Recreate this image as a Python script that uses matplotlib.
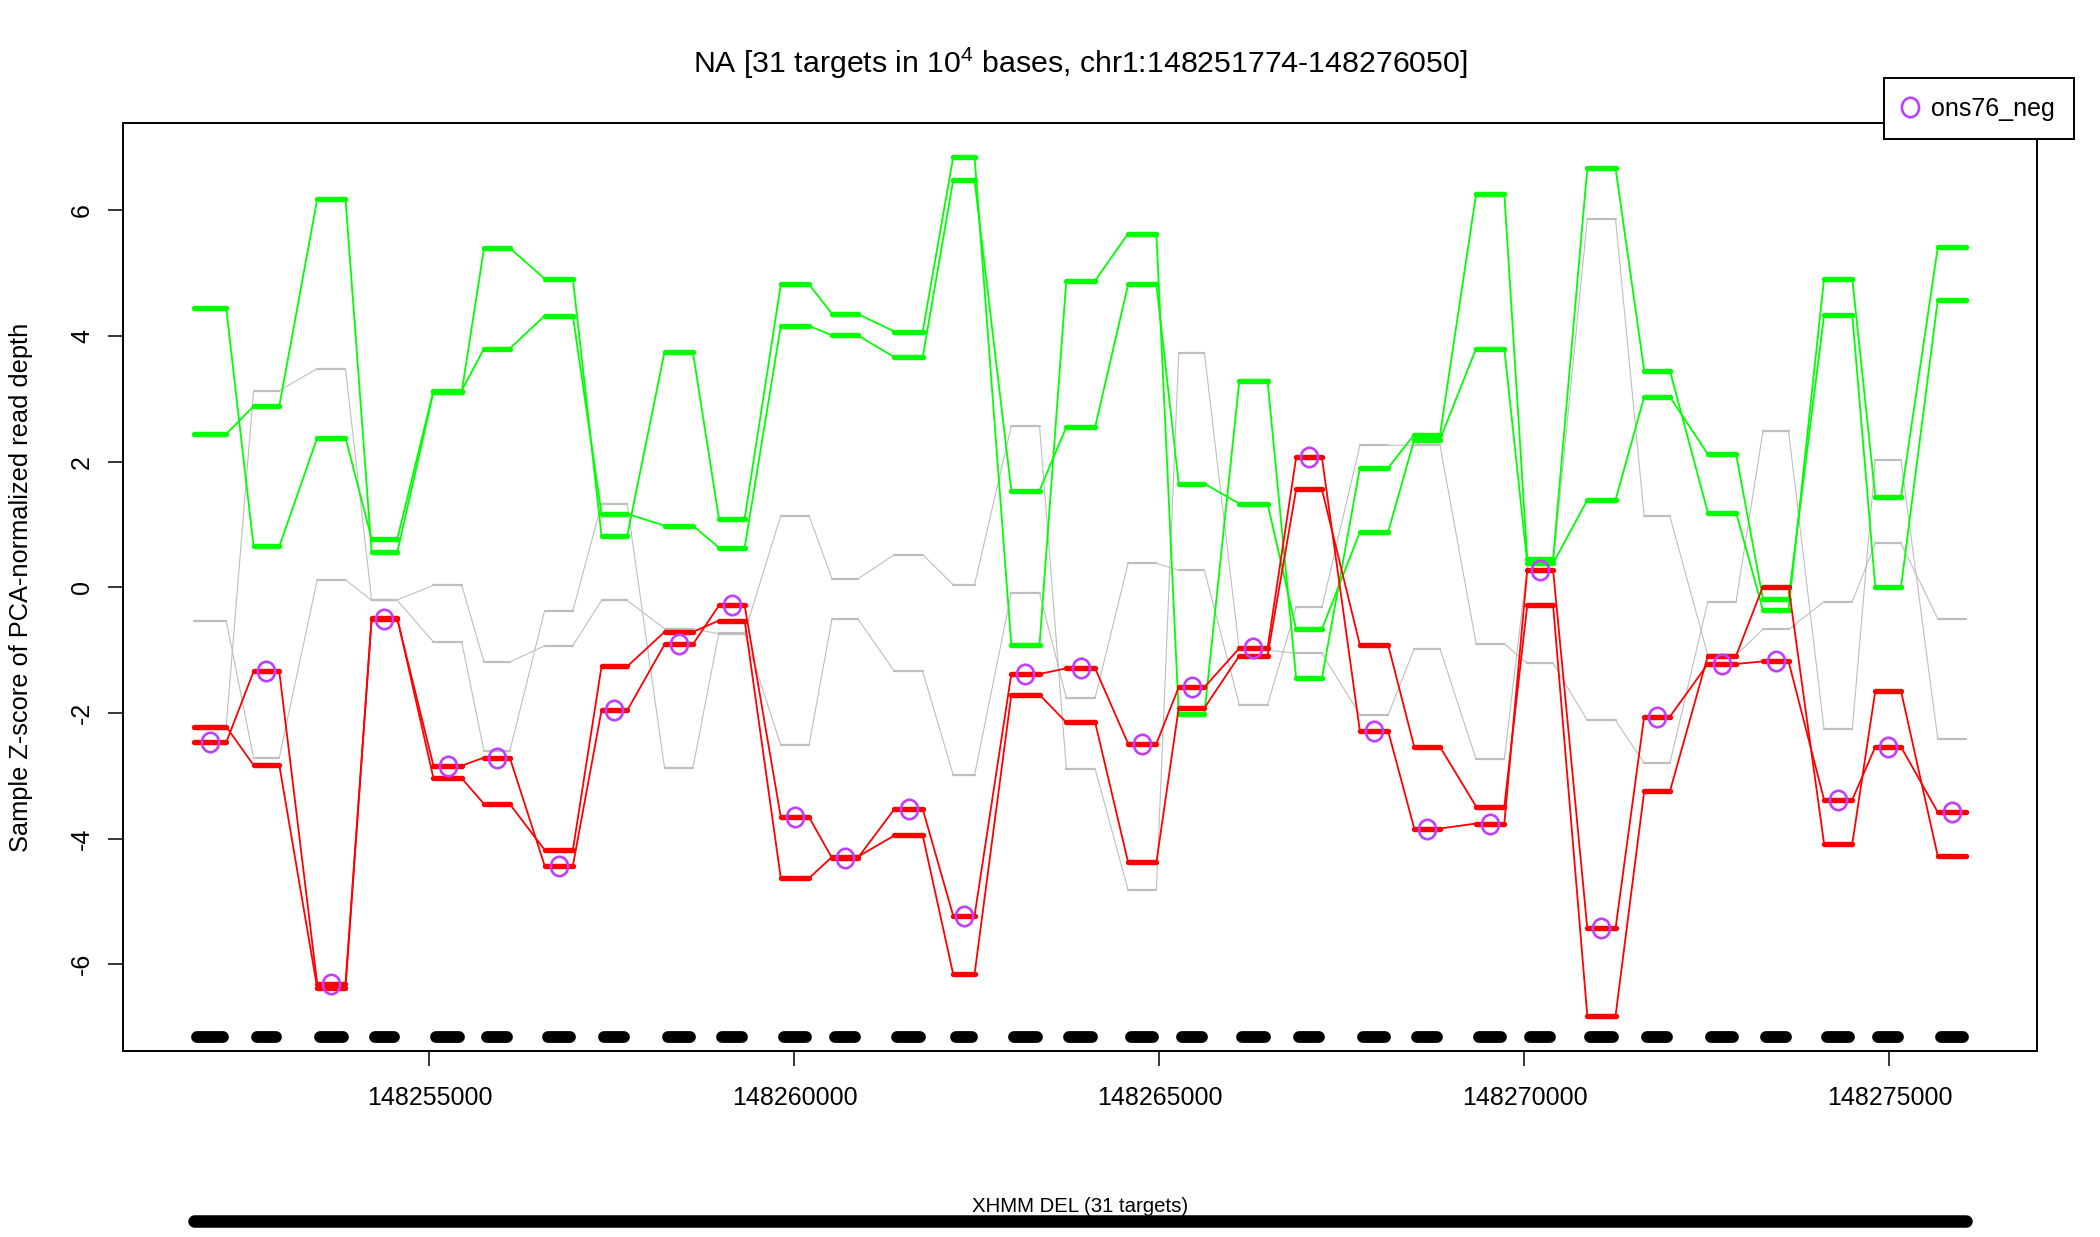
import numpy as np
import matplotlib.pyplot as plt
from matplotlib.path import Path
from matplotlib.transforms import Affine2D
from matplotlib.lines import Line2D

plt.rcParams['font.family'] = ['Liberation Sans', 'DejaVu Sans']
plt.rcParams['mathtext.fontset'] = 'custom'
plt.rcParams['mathtext.rm'] = 'Liberation Sans'

# target intervals (chr1)
starts = np.array([148251774, 148252591, 148253463, 148254208, 148255055, 148255748, 148256578,
                   148257357, 148258221, 148258966, 148259813, 148260515, 148261370, 148262175,
                   148262971, 148263724, 148264571, 148265264, 148266094, 148266873, 148267746,
                   148268490, 148269338, 148270039, 148270861, 148271640, 148272512, 148273266,
                   148274104, 148274806, 148275662])
ends = np.array([148252216, 148252943, 148253850, 148254560, 148255442, 148256100, 148256965,
                 148257709, 148258608, 148259318, 148260200, 148260867, 148261757, 148262467,
                 148263357, 148264119, 148264958, 148265616, 148266481, 148267225, 148268133,
                 148268843, 148269724, 148270392, 148271248, 148271992, 148272899, 148273618,
                 148274491, 148275158, 148276050])

# Z-scores per sample
ons76_neg = [-2.47, -1.34, -6.31, -0.51, -2.84, -2.71, -4.43, -1.96, -0.91, -0.29, -3.66, -4.31,
             -3.53, -5.23, -1.38, -1.29, -2.49, -1.59, -0.97, 2.07, -2.29, -3.84, -3.76, 0.28,
             -5.43, -2.06, -1.22, -1.18, -3.38, -2.54, -3.58]
del_other = [-2.22, -2.83, -6.38, -0.49, -3.04, -3.45, -4.18, -1.26, -0.71, -0.53, -4.63, -4.29,
             -3.95, -6.16, -1.71, -2.15, -4.38, -1.92, -1.09, 1.56, -0.92, -2.54, -3.49, -0.28,
             -6.82, -3.25, -1.09, 0.01, -4.08, -1.65, -4.28]
dup_a = [4.44, 0.65, 2.38, 0.77, 3.13, 3.80, 4.32, 1.17, 0.98, 0.63, 4.16, 4.01, 3.66, 6.48,
         1.54, 2.55, 4.82, 1.65, 1.33, -0.67, 0.88, 2.35, 3.80, 0.38, 1.39, 3.03, 2.12, -0.18,
         4.33, 0.00, 4.57]
dup_b = [2.44, 2.88, 6.18, 0.56, 3.11, 5.40, 4.91, 0.82, 3.75, 1.09, 4.82, 4.35, 4.07, 6.85,
         -0.92, 4.88, 5.63, -2.01, 3.28, -1.45, 1.90, 2.43, 6.26, 0.45, 6.67, 3.45, 1.19, -0.36,
         4.91, 1.44, 5.41]
nocall_a = [-0.53, -2.71, 0.12, -0.21, -0.87, -2.61, -0.37, 1.32, -2.88, -0.72, 1.14, 0.13, 0.52,
            0.04, 2.57, -2.89, -4.82, 3.73, -1.00, -1.05, -2.03, -0.98, -2.74, 0.35, 5.86, 1.13,
            -1.08, -0.67, -0.23, 0.70, -0.50]
nocall_b = [-2.22, 3.13, 3.48, -0.20, 0.03, -1.19, -0.93, -0.21, -0.66, -0.74, -2.51, -0.50, -1.34,
            -2.99, -0.09, -1.76, 0.38, 0.27, -1.87, -0.32, 2.26, 2.26, -0.90, -1.21, -2.12, -2.80,
            -0.23, 2.48, -2.26, 2.02, -2.41]

call_start, call_end = 148251774, 148276050
track_y = -7.16
xticks = [148255000, 148260000, 148265000, 148270000, 148275000]
yticks = [-6, -4, -2, 0, 2, 4, 6]

purple = "#BF3EFF"
ellipse = Path.unit_circle().transformed(Affine2D().scale(0.88, 1.0))


def draw_sample(ax, vals, color, seg_lw, link_lw):
    vals = np.asarray(vals)
    xs = np.column_stack([starts, ends]).ravel()
    ys = np.repeat(vals, 2)
    ax.plot(xs, ys, color=color, lw=link_lw, solid_joinstyle="round")
    ax.hlines(vals, starts, ends, colors=color, linewidth=seg_lw, capstyle="round")


fig = plt.figure(figsize=(21, 12.37), dpi=100)
ax = fig.add_axes([0.0586, 0.1504, 0.9114, 0.7502])

pad = 0.04 * (ends[-1] - starts[0])
ax.set_xlim(starts[0] - pad, ends[-1] + pad)
ax.set_ylim(-7.38, 7.39)

for vals in [nocall_a, nocall_b]:
    draw_sample(ax, vals, "#BEBEBE", 1.6, 0.8)
for vals in [dup_a, dup_b]:
    draw_sample(ax, vals, "#00FF00", 3.9, 1.3)
for vals in [del_other, ons76_neg]:
    draw_sample(ax, vals, "#FF0000", 3.9, 1.3)

centers = (starts + ends) / 2
ax.plot(centers, ons76_neg, linestyle="none", marker=ellipse, ms=14, mfc="none",
        mec=purple, mew=1.9)

# target track
trim = 40
ax.hlines(np.full(len(starts), track_y), starts + trim, ends - trim, colors="black",
          linewidth=8.5, capstyle="round")

ax.set_xticks(xticks)
ax.set_xticklabels([str(t) for t in xticks])
ax.set_yticks(yticks)
ax.set_yticklabels([str(t) for t in yticks], rotation=90, va="center")
ax.tick_params(axis="both", direction="out", length=11, width=1.1, labelsize=18, color="black")
ax.tick_params(axis="x", pad=14)
ax.tick_params(axis="y", pad=10)
for spine in ax.spines.values():
    spine.set_linewidth(1.4)
    spine.set_color("black")

ax.set_ylabel("Sample Z-score of PCA-normalized read depth", fontsize=18.3)
ax.yaxis.set_label_coords(-0.047, 0.5)

fig.text(0.5143, 0.949,
         r"NA [31 targets in $\mathregular{10^4}$ bases, chr1:148251774-148276050]",
         ha="center", va="center", fontsize=21.8)

handle = Line2D([], [], linestyle="none", marker=ellipse, ms=14, mfc="none", mec=purple, mew=1.9)
leg = fig.legend(handles=[handle], labels=["ons76_neg"], loc="upper right",
                 bbox_to_anchor=(0.9875, 0.937), frameon=True, fancybox=False, fontsize=18,
                 framealpha=1, handlelength=0.6, handletextpad=0.55, borderpad=0.75,
                 borderaxespad=0)
leg.get_frame().set_edgecolor("black")
leg.get_frame().set_facecolor("white")
leg.get_frame().set_linewidth(1.4)

# call track below
ax2 = fig.add_axes([0.0586, 0.0, 0.9114, 0.05])
ax2.set_xlim(ax.get_xlim())
ax2.set_ylim(0, 1)
ax2.axis("off")
ax2.plot([call_start, call_end], [0.26, 0.26], color="black", lw=9, solid_capstyle="round")
ax2.text((call_start + call_end) / 2, 0.5, "XHMM DEL (31 targets)", ha="center",
         va="center", fontsize=14.7)

fig.savefig("out.png", dpi=100)
